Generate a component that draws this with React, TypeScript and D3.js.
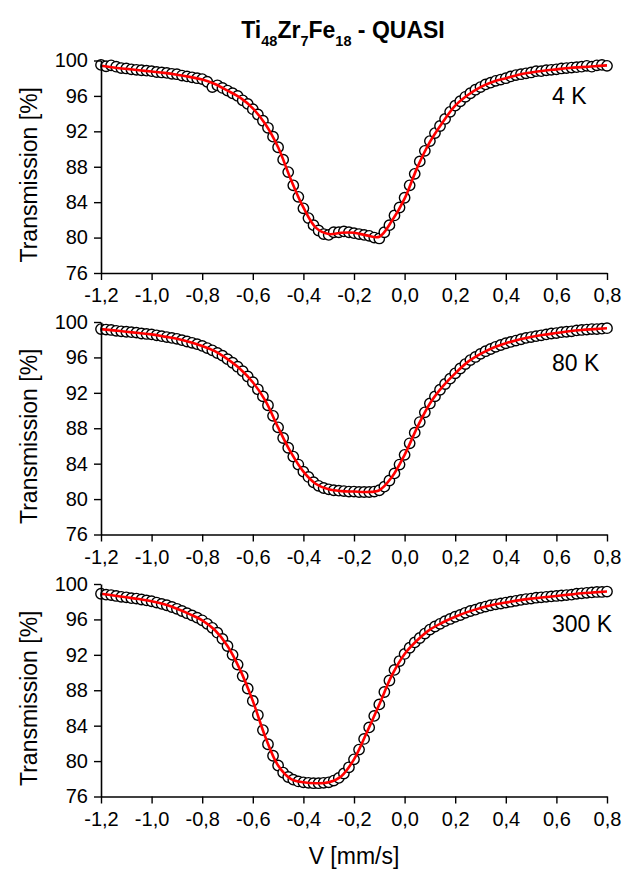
import React, { useEffect, useRef } from 'react';
import * as d3 from 'd3';

// velocity grid of the spectra (mm/s)
const vStart = -1.2;
const dataStep = 0.02;
const fitStep = 0.05;

const xTicks = [-1.2, -1.0, -0.8, -0.6, -0.4, -0.2, 0.0, 0.2, 0.4, 0.6, 0.8];
const xMinor = [-1.1, -0.9, -0.7, -0.5, -0.3, -0.1, 0.1, 0.3, 0.5, 0.7];
const yTicks = [76, 80, 84, 88, 92, 96, 100];
const yMinor = [78, 82, 86, 90, 94, 98];

const temps = ['4 K', '80 K', '300 K'];

// measured transmission [%], one point every 0.02 mm/s from -1.2
const data4K = [
  99.5, 99.35, 99.45, 99.3, 99.15, 99.1, 99.0, 98.95, 98.9, 98.85,
  98.8, 98.7, 98.65, 98.6, 98.5, 98.45, 98.3, 98.2, 98.1, 98.0,
  97.9, 97.6, 97.0, 97.2, 96.9, 96.6, 96.3, 96.0, 95.5, 95.1,
  94.5, 93.9, 93.2, 92.4, 91.4, 90.2, 88.8, 87.4, 85.9, 84.6,
  83.3, 82.2, 81.4, 80.8, 80.4, 80.3, 80.6, 80.6, 80.7, 80.6,
  80.5, 80.4, 80.3, 80.2, 80.0, 79.9, 80.6, 81.4, 82.5, 83.4,
  84.5, 85.9, 87.2, 88.6, 89.8, 90.9, 91.8, 92.6, 93.4, 94.2,
  94.9, 95.4, 95.9, 96.3, 96.7, 97.0, 97.3, 97.5, 97.7, 97.85,
  98.0, 98.2, 98.35, 98.45, 98.55, 98.65, 98.8, 98.8, 98.9, 98.95,
  99.0, 99.1, 99.15, 99.2, 99.25, 99.3, 99.4, 99.3, 99.45, 99.5,
  99.4,
];
const data80K = [
  99.2, 99.15, 99.1, 99.0, 98.95, 98.9, 98.85, 98.8, 98.7, 98.65,
  98.6, 98.5, 98.4, 98.3, 98.2, 98.1, 97.95, 97.8, 97.65, 97.5,
  97.3, 97.05, 96.8, 96.5, 96.2, 95.8, 95.4, 94.95, 94.45, 93.85,
  93.2, 92.4, 91.6, 90.6, 89.4, 88.1, 86.9, 85.8, 84.8, 83.9,
  83.1, 82.5, 81.9, 81.5, 81.25, 81.1, 81.0, 80.95, 80.9, 80.85,
  80.85, 80.8, 80.8, 80.8, 80.85, 81.0, 81.4, 82.1, 82.9, 83.9,
  85.0, 86.3, 87.5, 88.7, 89.8, 90.8, 91.6, 92.35, 93.0, 93.6,
  94.2, 94.75, 95.25, 95.7, 96.05, 96.4, 96.7, 96.95, 97.2, 97.4,
  97.6, 97.75, 97.9, 98.05, 98.2, 98.3, 98.4, 98.5, 98.6, 98.7,
  98.75, 98.85, 98.9, 98.95, 99.05, 99.1, 99.15, 99.2, 99.2, 99.25,
  99.3,
];
const data300K = [
  98.9, 98.8, 98.75, 98.65, 98.55, 98.5, 98.4, 98.35, 98.25, 98.15,
  98.05, 97.9, 97.75, 97.6, 97.4, 97.2, 96.95, 96.7, 96.45, 96.2,
  95.9, 95.5, 95.05, 94.5, 93.8, 93.0, 92.0, 90.9, 89.6, 88.2,
  86.8, 85.2, 83.5, 81.9, 80.6, 79.5, 78.7, 78.2, 77.9, 77.7,
  77.6, 77.55, 77.5, 77.5, 77.55, 77.6, 77.8, 78.1, 78.6, 79.3,
  80.2, 81.3, 82.5, 83.8, 85.1, 86.4, 87.8, 89.1, 90.3, 91.3,
  92.1, 92.8, 93.4, 93.9, 94.4, 94.85, 95.2, 95.5, 95.8, 96.05,
  96.3, 96.5, 96.75, 96.95, 97.1, 97.3, 97.45, 97.6, 97.7, 97.8,
  97.9, 98.0, 98.1, 98.2, 98.3, 98.35, 98.45, 98.5, 98.55, 98.6,
  98.65, 98.7, 98.75, 98.8, 98.9, 98.95, 99.0, 99.05, 99.1, 99.1,
  99.15,
];

// fitted curves, one value every 0.05 mm/s from -1.2
const fit4K = [
  99.4, 99.2, 99.05, 98.9, 98.75, 98.6, 98.4, 98.15, 97.85, 97.35,
  96.6, 95.8, 94.6, 92.8, 90.2, 86.6, 83.4, 81.1, 80.4, 80.55,
  80.55, 80.25, 80.1, 81.9, 84.4, 87.9, 90.8, 93.0, 94.9, 96.1,
  97.0, 97.6, 98.0, 98.4, 98.65, 98.85, 99.0, 99.15, 99.25, 99.35,
  99.45,
];
const fit80K = [
  99.2, 99.05, 98.9, 98.75, 98.6, 98.35, 98.1, 97.75, 97.3, 96.7,
  95.8, 94.7, 93.2, 91.1, 88.1, 85.3, 83.1, 81.7, 81.1, 80.9,
  80.85, 80.8, 81.0, 82.5, 85.0, 88.1, 90.8, 92.7, 94.2, 95.5,
  96.4, 97.1, 97.6, 98.0, 98.3, 98.55, 98.75, 98.95, 99.1, 99.2,
  99.3,
];
const fit300K = [
  98.9, 98.7, 98.5, 98.3, 98.05, 97.7, 97.2, 96.6, 95.9, 94.8,
  93.0, 90.3, 86.8, 82.7, 79.5, 78.0, 77.6, 77.5, 77.6, 78.3,
  80.2, 83.2, 86.4, 89.7, 92.1, 93.65, 94.85, 95.65, 96.3, 96.85,
  97.3, 97.65, 97.9, 98.15, 98.35, 98.5, 98.65, 98.8, 98.95, 99.05,
  99.15,
];

const panels = [
  { temp: temps[0], data: data4K, fit: fit4K },
  { temp: temps[1], data: data80K, fit: fit80K },
  { temp: temps[2], data: data300K, fit: fit300K },
];

const FONT = '"Liberation Sans", Arial, Helvetica, sans-serif';

const App = () => {
  const svgRef = useRef<SVGSVGElement | null>(null);

  useEffect(() => {
    const width = 626;
    const height = 870;
    const left = 101;
    const right = 607;
    const tops = [60.5, 322, 584];
    const panelH = 212.5;

    const svg = d3.select(svgRef.current);
    svg.selectAll('*').remove();
    svg.attr('width', width).attr('height', height);

    const x = d3.scaleLinear().domain([-1.2, 0.8]).range([left, right]);
    const fmt = (d: number) => d.toFixed(1).replace('.', ',');

    // title with subscripts
    const title = svg.append('text')
      .attr('x', 343)
      .attr('y', 38)
      .attr('text-anchor', 'middle')
      .attr('font-family', FONT)
      .attr('font-weight', 'bold')
      .attr('font-size', 23);
    const parts: [string, boolean][] = [['Ti', false], ['48', true], ['Zr', false], ['7', true], ['Fe', false], ['18', true], [' - QUASI', false]];
    parts.forEach(([t, sub], i) => {
      const prevSub = i > 0 && parts[i - 1][1];
      const ts = title.append('tspan').text(t);
      if (sub) ts.attr('font-size', 14.5).attr('dy', 8);
      else if (prevSub) ts.attr('dy', -8);
    });

    panels.forEach((p, k) => {
      const top = tops[k];
      const y = d3.scaleLinear().domain([76, 100]).range([top + panelH, top]);
      const g = svg.append('g');

      const fitPts = p.fit.map((v, i) => [vStart + i * fitStep, v] as [number, number]);
      const dataPts = p.data.map((v, i) => [vStart + i * dataStep, v] as [number, number]);

      // measured points
      g.selectAll('circle')
        .data(dataPts)
        .enter()
        .append('circle')
        .attr('cx', d => x(d[0]))
        .attr('cy', d => y(d[1]))
        .attr('r', 5.2)
        .attr('fill', '#fff')
        .attr('stroke', '#000')
        .attr('stroke-width', 1.4);

      // fit line
      const line = d3.line<[number, number]>()
        .x(d => x(d[0]))
        .y(d => y(d[1]))
        .curve(d3.curveCatmullRom);

      g.append('path')
        .datum(fitPts)
        .attr('d', line)
        .attr('fill', 'none')
        .attr('stroke', '#ff0000')
        .attr('stroke-width', 2.6);

      // axes
      const xa = svg.append('g').attr('transform', `translate(0,${top + panelH})`);
      xa.call(d3.axisBottom(x).tickValues(xMinor).tickSize(4).tickSizeOuter(0).tickFormat(() => ''));
      xa.call(d3.axisBottom(x).tickValues(xTicks).tickSize(7).tickSizeOuter(0).tickPadding(8).tickFormat(d => fmt(d as number)));

      const ya = svg.append('g').attr('transform', `translate(${left},0)`);
      ya.call(d3.axisLeft(y).tickValues(yMinor).tickSize(4).tickSizeOuter(0).tickFormat(() => ''));
      ya.call(d3.axisLeft(y).tickValues(yTicks).tickSize(7).tickSizeOuter(0).tickPadding(6).tickFormat(d => String(d)));

      [xa, ya].forEach(a => {
        a.selectAll('path').attr('stroke', '#000').attr('stroke-width', 1.6);
        a.selectAll('line').attr('stroke', '#000').attr('stroke-width', 1.4);
        a.selectAll('text').attr('fill', '#000').attr('font-size', 20).attr('font-family', FONT);
      });

      // axis title
      svg.append('text')
        .attr('transform', `translate(37,${top + panelH / 2 + 8}) rotate(-90)`)
        .attr('text-anchor', 'middle')
        .attr('font-family', FONT)
        .attr('font-size', 23)
        .text('Transmission [%]');

      // temperature label
      svg.append('text')
        .attr('x', 552)
        .attr('y', top + [43.5, 49, 48][k])
        .attr('font-family', FONT)
        .attr('font-size', 23)
        .text(p.temp);
    });

    svg.append('text')
      .attr('x', 354)
      .attr('y', 864)
      .attr('text-anchor', 'middle')
      .attr('font-family', FONT)
      .attr('font-size', 23)
      .text('V [mm/s]');
  }, []);

  return (
    <div style={{ position: 'absolute', left: 0, top: 0, background: '#fff' }}>
      <svg ref={svgRef}></svg>
    </div>
  );
};

export default App;
